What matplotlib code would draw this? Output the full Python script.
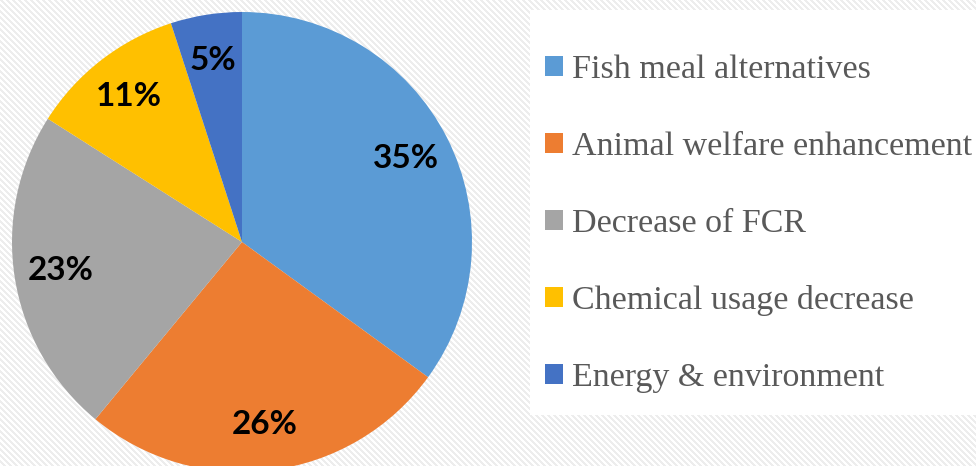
import numpy as np
import matplotlib
matplotlib.use('Agg')
import matplotlib.pyplot as plt
from matplotlib.patches import Patch, Rectangle

# 데이터
categories = ['Fish meal alternatives', 'Animal welfare enhancement', 'Decrease of FCR',
              'Chemical usage decrease', 'Energy & environment']
shares = [35, 26, 23, 11, 5]
colors = ['#5B9BD5', '#ED7D31', '#A5A5A5', '#FFC000', '#4472C4']

W, H = 976, 466
fig = plt.figure(figsize=(W / 100, H / 100), dpi=100)

# 배경 줄무늬
yy, xx = np.indices((H, W))
stripes = ((xx - yy) % 6 < 3).astype(float)
bg = np.ones((H, W, 3))
bg[stripes == 1] = [0.93, 0.93, 0.93]
bg_ax = fig.add_axes([0, 0, 1, 1])
bg_ax.imshow(bg, aspect='auto', interpolation='nearest')
bg_ax.axis('off')

# 범례 배경 (흰 상자)
fig.patches.append(Rectangle((530 / W, 1 - 415 / H), (W - 530) / W, 405 / H,
                             transform=fig.transFigure, facecolor='white',
                             edgecolor='none', zorder=1))

# 파이 차트
cx, cy, r = 242, 466 - 242, 230
ax = fig.add_axes([(cx - r) / W, (cy - r) / H, 2 * r / W, 2 * r / H])
wedges, texts, autotexts = ax.pie(
    shares, colors=colors, startangle=90, counterclock=False,
    autopct='%d%%', pctdistance=0.8, radius=1,
    textprops=dict(family='Lato', fontweight='bold', fontsize=24, color='black'))
ax.set_xlim(-1, 1)
ax.set_ylim(-1, 1)
ax.set_aspect('equal')
ax.axis('off')
for w in wedges:
    w.set_clip_on(False)

# 범례
handles = [Patch(facecolor=c, edgecolor='none', label=l) for c, l in zip(colors, categories)]
leg = fig.legend(handles=handles, loc='upper left', bbox_to_anchor=(545 / W, 1 - 55 / H),
                 frameon=False, borderaxespad=0, borderpad=0,
                 prop=dict(family='Liberation Serif', size=24.5),
                 labelspacing=1.36, handlelength=0.53, handleheight=0.53,
                 handletextpad=0.26)
leg.set_zorder(2)
for t in leg.get_texts():
    t.set_color('#595959')

fig.savefig('out.png', dpi=100)
